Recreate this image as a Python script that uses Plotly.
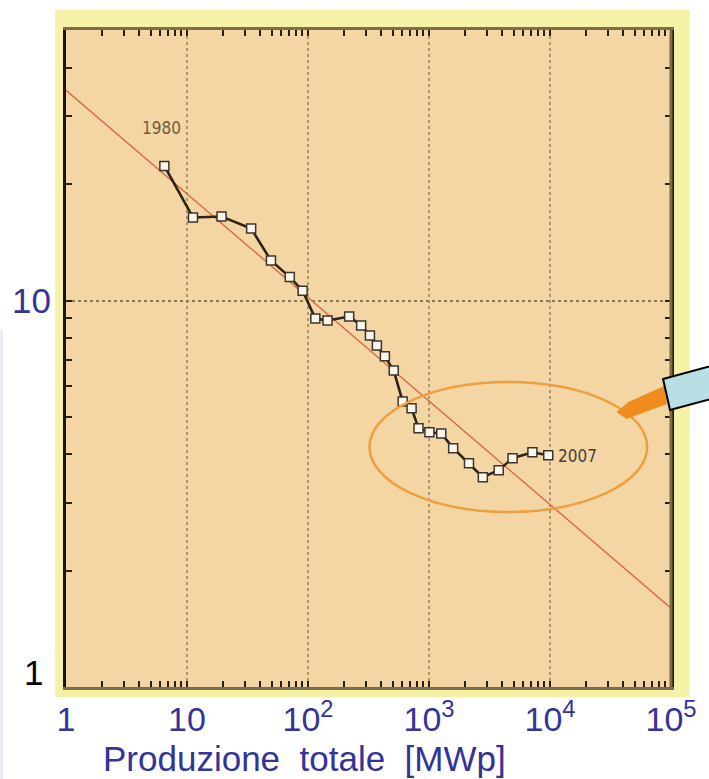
import math
import plotly.graph_objects as go

# Cumulative production (MWp) and module price, 1980 -> 2007
cum_mw = [6.5, 11.2, 19.3, 33.9, 49.4, 70.7, 90.3, 115, 145, 219, 275, 325, 371,
          432, 511, 606, 718, 819, 1008, 1263, 1584, 2141, 2786, 3768, 4908, 7151, 9669]
price = [22.3, 16.4, 16.5, 15.35, 12.7, 11.5, 10.6, 8.98, 8.88, 9.09, 8.62, 8.12, 7.65,
         7.17, 6.59, 5.48, 5.26, 4.67, 4.56, 4.53, 4.15, 3.79, 3.49, 3.64, 3.91, 4.05, 3.98]

# Experience-curve fit line (end points)
fit_x = [1, 1e5]
fit_y = [35.0, 1.6]

x_tickvals = [1, 10, 100, 1000, 10000, 100000]
x_ticktext = ["1", "10", "10<sup>2</sup>", "10<sup>3</sup>", "10<sup>4</sup>", "10<sup>5</sup>"]
y_tickvals = [1, 10]
y_ticktext = ["1", "10"]
first_year, last_year = "1980", "2007"
x_title = "Produzione&nbsp;&nbsp;totale&nbsp;&nbsp;[MWp]"

W, H = 709, 779
ML, MR, MT, MB = 66, 33, 30, 92
PW, PH = W - ML - MR, H - MT - MB


def px(x):
    return (x - ML) / PW


def py(y):
    return (H - MB - y) / PH


BLUE = "#333399"
TAN = "#f4d6a4"
YELLOW = "#f5f2a8"
SANS = "Liberation Sans, Arial"
NARROW = "DejaVu Sans Condensed, Liberation Sans, Arial"

fig = go.Figure()
fig.add_trace(go.Scatter(x=fit_x, y=fit_y, mode="lines",
                         line=dict(color="#d8683f", width=1.4), hoverinfo="skip"))
fig.add_trace(go.Scatter(x=cum_mw, y=price, mode="lines+markers",
                         line=dict(color="#2d2417", width=2.6),
                         marker=dict(symbol="square", size=9, color="#fbf6ea",
                                     line=dict(color="#3a3530", width=1.5))))

minor_x = [k * 10 ** d for d in range(5) for k in range(2, 10)]
minor_y = [k for k in range(2, 10)] + [20, 30, 40]

fig.update_xaxes(type="log", range=[0, 5], tickvals=x_tickvals, ticktext=x_ticktext,
                 tickfont=dict(family=SANS, size=34, color=BLUE),
                 showgrid=True, gridcolor="#ab9870", griddash="dot", gridwidth=2,
                 showline=True, linecolor="#7b6c4a", linewidth=3, mirror="ticks",
                 ticks="inside", ticklen=6, tickwidth=2, tickcolor="#2a2010",
                 minor=dict(tickvals=minor_x, ticks="inside", ticklen=6, tickwidth=2,
                            tickcolor="#2a2010", showgrid=False),
                 zeroline=False)
fig.update_yaxes(type="log", range=[0, 1.7], tickvals=y_tickvals, ticktext=y_ticktext,
                 showticklabels=False,
                 showgrid=True, gridcolor="#8a7a5a", griddash="dot", gridwidth=2,
                 showline=True, linecolor="#1b140c", linewidth=3, mirror="ticks",
                 ticks="inside", ticklen=6, tickwidth=2, tickcolor="#2a2010",
                 minor=dict(tickvals=minor_y, ticks="inside", ticklen=6, tickwidth=2,
                            tickcolor="#2a2010", showgrid=False),
                 zeroline=False)

shapes = [
    # pale yellow mat behind the plot frame
    dict(type="rect", xref="paper", yref="paper", x0=px(55), x1=px(695), y0=py(697), y1=py(10),
         fillcolor=YELLOW, line=dict(width=0), layer="below"),
    dict(type="rect", xref="paper", yref="paper", x0=0, x1=1, y0=0, y1=1,
         fillcolor=TAN, line=dict(width=0), layer="below"),
    # right frame edge
    dict(type="line", xref="paper", yref="paper", x0=1, x1=1, y0=0, y1=1,
         line=dict(color="#7b6c4a", width=3)),
    # faint lavender edge at the left
    dict(type="rect", xref="paper", yref="paper", x0=px(0), x1=px(2), y0=py(779), y1=py(330),
         fillcolor="#e2e2f2", line=dict(width=0), layer="below"),
    # ellipse highlighting the recent years
    dict(type="circle", xref="paper", yref="paper", x0=px(372), x1=px(652), y0=py(512), y1=py(382),
         line=dict(color="#eea040", width=2.5)),
]


def path(points):
    return "M " + " L ".join(f"{px(a):.5f},{py(b):.5f}" for a, b in points) + " Z"


# orange pointer and callout box
shapes.append(dict(type="path", xref="paper", yref="paper",
                   path=path([(621, 412), (633, 402), (669, 386), (672, 404), (631, 419)]),
                   fillcolor="#f08c1e", line=dict(width=0)))
shapes.append(dict(type="path", xref="paper", yref="paper",
                   path=path([(668, 379), (740, 359.7), (740, 392.6), (675, 410)]),
                   fillcolor="#b8dfe3", line=dict(color="#000000", width=2)))

annotations = [
    dict(text=x_title, xref="paper", yref="paper", x=px(306), y=py(758),
         xanchor="center", yanchor="middle", showarrow=False,
         font=dict(family=SANS, size=35, color=BLUE)),
    dict(text="10", xref="paper", yref="paper", x=px(31), y=py(300),
         xanchor="center", yanchor="middle", showarrow=False,
         font=dict(family=SANS, size=35, color=BLUE)),
    dict(text="1", xref="paper", yref="paper", x=px(33), y=py(672),
         xanchor="center", yanchor="middle", showarrow=False,
         font=dict(family=SANS, size=35, color="#000000")),
    dict(text=first_year, x=math.log10(cum_mw[0]), y=math.log10(price[0]),
         xanchor="center", yanchor="middle", xshift=-3, yshift=38, showarrow=False,
         font=dict(family=NARROW, size=17, color="#6e5e40")),
    dict(text=last_year, x=math.log10(cum_mw[-1]), y=math.log10(price[-1]),
         xanchor="left", yanchor="middle", xshift=8, yshift=-1, showarrow=False,
         font=dict(family=NARROW, size=17, color="#4a4035")),
]

fig.update_layout(width=W, height=H, margin=dict(l=ML, r=MR, t=MT, b=MB, pad=0),
                  paper_bgcolor="#ffffff", plot_bgcolor=TAN, showlegend=False,
                  shapes=shapes, annotations=annotations)

fig.write_html("out.html")
